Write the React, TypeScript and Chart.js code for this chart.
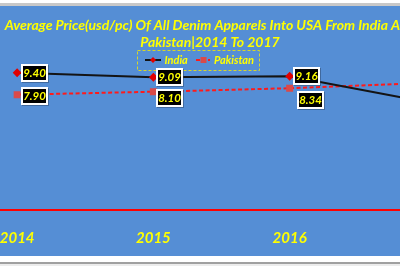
import React, { useEffect, useRef } from "react";
import { Chart, registerables } from "chart.js";
Chart.register(...registerables);

const years = ["2014", "2015", "2016", "2017"];
const india = [9.4, 9.09, 9.16, 7.4];
const pakistan = [7.9, 8.1, 8.34, 8.7];
const seriesNames = ["India", "Pakistan"];
const titleLines = [
  "Average Price(usd/pc) Of All Denim Apparels Into USA From India And",
  "Pakistan|2014 To 2017",
];
const yMin = 0;
const yMax = 10;

// label box offsets relative to each point (layout only)
const labelDx = [[4, 3, 3, 3], [4, 3, 7, 3]];
const labelDy = [[-9, -9, -9, -9], [-8, -3, 3, 3]];

const BG = "#558ED5";
const YELLOW = "#FFFF00";
const FONT = "Lato, 'Open Sans', sans-serif";
const INDIA_COLOR = "#141414";
const PAK_COLOR = "#FF1A1A";

const decorPlugin = {
  id: "decor",
  beforeDraw(chart: any) {
    const ctx = chart.ctx;
    ctx.save();
    ctx.fillStyle = BG;
    ctx.fillRect(0, 0, chart.width, chart.height);
    ctx.restore();
  },
  afterDraw(chart: any) {
    const ctx = chart.ctx;
    ctx.save();
    // title
    ctx.fillStyle = YELLOW;
    ctx.font = `italic bold 14px ${FONT}`;
    ctx.textAlign = "center";
    ctx.textBaseline = "middle";
    ctx.fillText(titleLines[0], 270, 19.5);
    ctx.fillText(titleLines[1], 270, 36.5);

    // legend box
    ctx.strokeStyle = "#D6D62A";
    ctx.lineWidth = 1;
    ctx.setLineDash([3, 2]);
    ctx.strokeRect(197.5, 44.5, 122, 20);
    ctx.setLineDash([]);
    const ly = 54;
    // India sample
    ctx.strokeStyle = INDIA_COLOR;
    ctx.lineWidth = 2;
    ctx.beginPath();
    ctx.moveTo(205, ly);
    ctx.lineTo(221, ly);
    ctx.stroke();
    ctx.fillStyle = "#E00000";
    ctx.beginPath();
    ctx.moveTo(213, ly - 3);
    ctx.lineTo(216, ly);
    ctx.lineTo(213, ly + 3);
    ctx.lineTo(210, ly);
    ctx.closePath();
    ctx.fill();
    // Pakistan sample
    ctx.strokeStyle = PAK_COLOR;
    ctx.setLineDash([4, 2]);
    ctx.beginPath();
    ctx.moveTo(256, ly);
    ctx.lineTo(270, ly);
    ctx.stroke();
    ctx.setLineDash([]);
    ctx.fillStyle = "#D94A4A";
    ctx.fillRect(260.5, ly - 3, 6, 6);
    // legend text
    ctx.fillStyle = YELLOW;
    ctx.font = `italic bold 11px ${FONT}`;
    ctx.textAlign = "left";
    ctx.textBaseline = "middle";
    ctx.fillText(seriesNames[0], 224.5, ly);
    ctx.fillText(seriesNames[1], 274, ly);

    // data labels
    chart.data.datasets.forEach((ds: any, di: number) => {
      const meta = chart.getDatasetMeta(di);
      meta.data.forEach((pt: any, i: number) => {
        const bx = Math.round(pt.x + labelDx[di][i]);
        const by = Math.round(pt.y + labelDy[di][i]);
        const w = 27;
        const h = 18;
        ctx.fillStyle = "rgba(40,60,90,0.45)";
        ctx.fillRect(bx + 1, by + 1, w, h);
        ctx.fillStyle = "#FFFFFF";
        ctx.fillRect(bx, by, w, h);
        ctx.fillStyle = "#000000";
        ctx.fillRect(bx + 2, by + 2, w - 4, h - 4);
        ctx.fillStyle = YELLOW;
        ctx.font = `italic bold 11.5px ${FONT}`;
        ctx.textAlign = "center";
        ctx.textBaseline = "middle";
        ctx.fillText(Number(ds.data[i]).toFixed(2), bx + w / 2, by + h / 2 + 0.5);
      });
    });
    ctx.restore();
  },
};

export default function App() {
  const ref = useRef<HTMLCanvasElement | null>(null);
  useEffect(() => {
    if (!ref.current) return;
    const chart = new Chart(ref.current, {
      type: "line",
      data: {
        labels: years,
        datasets: [
          {
            label: seriesNames[0],
            data: india,
            borderColor: INDIA_COLOR,
            borderWidth: 2,
            pointStyle: "rectRot",
            pointRadius: 3,
            pointBackgroundColor: "#E00000",
            pointBorderColor: "#E00000",
            tension: 0,
          },
          {
            label: seriesNames[1],
            data: pakistan,
            borderColor: PAK_COLOR,
            borderWidth: 2,
            borderDash: [4, 2.5],
            pointStyle: "rect",
            pointRadius: 3.5,
            pointBackgroundColor: "#D94A4A",
            pointBorderColor: "#D94A4A",
            tension: 0,
          },
        ],
      },
      options: {
        responsive: false,
        animation: false,
        devicePixelRatio: 1,
        layout: { padding: { left: 9, right: 3, top: 58, bottom: 10 } },
        plugins: {
          legend: { display: false },
          title: { display: false },
          tooltip: { enabled: false },
        },
        scales: {
          x: {
            type: "category",
            offset: true,
            grid: { display: false, drawTicks: false },
            border: { display: true, color: "#FF0000", width: 2 },
            ticks: {
              color: YELLOW,
              padding: 19,
              maxRotation: 0,
              autoSkip: false,
              font: { family: FONT, size: 15, style: "italic", weight: "bold" },
            },
          },
          y: { display: false, min: yMin, max: yMax },
        },
      },
      plugins: [decorPlugin],
    } as any);
    return () => chart.destroy();
  }, []);

  return (
    <div
      style={{
        position: "absolute",
        left: 0,
        top: 0,
        width: 400,
        height: 266,
        overflow: "hidden",
        background: "#FFFFFF",
      }}
    >
      <div style={{ position: "absolute", left: 0, top: 3, width: 400, height: 3, background: "#C8C8C8" }} />
      <canvas
        ref={ref}
        width={560}
        height={270}
        style={{ position: "absolute", left: -60, top: 6, width: 560, height: 270 }}
      />
      <div style={{ position: "absolute", left: 0, top: 256, width: 400, height: 6, background: "#FFFFFF" }} />
      <div style={{ position: "absolute", left: 0, top: 262, width: 400, height: 2, background: "#A0A0A0" }} />
      <div style={{ position: "absolute", left: 0, top: 264, width: 400, height: 2, background: "#ECECEC" }} />
    </div>
  );
}
